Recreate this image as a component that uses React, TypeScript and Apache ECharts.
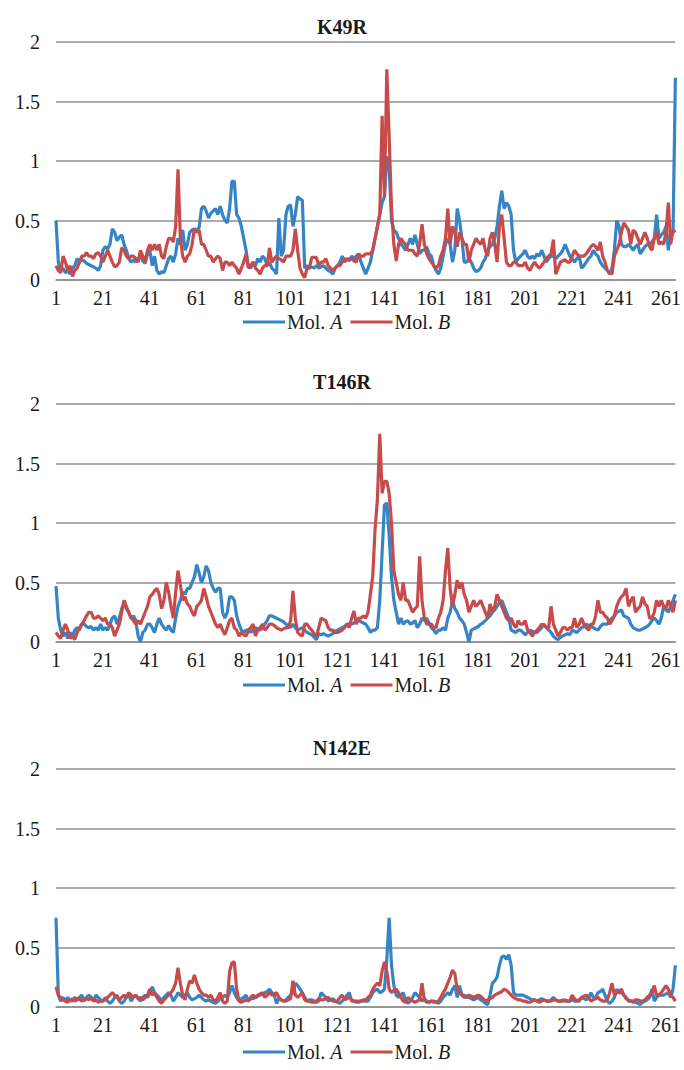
import React, { useEffect, useRef } from "react";
import * as echarts from "echarts";

// Residue numbers 1..265 on the category axis
const residues: string[] = Array.from({ length: 265 }, (_, i) => String(i + 1));
const yTicks = [0, 0.5, 1, 1.5, 2];
const panelTitles = ["K49R", "T146R", "N142E"];
const seriesNames = ["Mol. A", "Mol. B"];

const k49rA = [
  0.50, 0.15, 0.08, 0.10, 0.06, 0.08, 0.05, 0.10, 0.12, 0.18,
  0.15, 0.17, 0.16, 0.14, 0.13, 0.12, 0.11, 0.10, 0.08, 0.12,
  0.25, 0.28, 0.26, 0.30, 0.43, 0.40, 0.33, 0.36, 0.38, 0.30,
  0.25, 0.18, 0.15, 0.17, 0.15, 0.18, 0.20, 0.16, 0.14, 0.22,
  0.25, 0.12, 0.20, 0.08, 0.05, 0.07, 0.06, 0.12, 0.18, 0.20,
  0.15, 0.22, 0.35, 0.30, 0.42, 0.25, 0.30, 0.40, 0.42, 0.43,
  0.42, 0.44, 0.60, 0.62, 0.58, 0.52, 0.56, 0.58, 0.60, 0.55,
  0.62, 0.55, 0.50, 0.48, 0.60, 0.83, 0.83, 0.55, 0.52, 0.45,
  0.35, 0.25, 0.12, 0.10, 0.15, 0.12, 0.18, 0.15, 0.20, 0.18,
  0.12, 0.15, 0.10, 0.08, 0.05, 0.52, 0.20, 0.25, 0.55, 0.62,
  0.63, 0.45, 0.55, 0.70, 0.68, 0.67, 0.10, 0.12, 0.10, 0.11,
  0.10, 0.12, 0.10, 0.11, 0.12, 0.10, 0.08, 0.07, 0.05, 0.10,
  0.12, 0.15, 0.20, 0.15, 0.18, 0.16, 0.20, 0.18, 0.20, 0.22,
  0.15, 0.10, 0.05, 0.10, 0.15, 0.25, 0.35, 0.45, 0.55, 0.65,
  0.70, 1.04, 0.95, 0.50, 0.42, 0.40, 0.35, 0.30, 0.28, 0.25,
  0.30, 0.35, 0.30, 0.38, 0.30, 0.22, 0.25, 0.25, 0.28, 0.22,
  0.20, 0.12, 0.08, 0.05, 0.10, 0.20, 0.30, 0.35, 0.30, 0.15,
  0.25, 0.60, 0.50, 0.35, 0.15, 0.15, 0.18, 0.15, 0.10, 0.07,
  0.08, 0.10, 0.15, 0.18, 0.25, 0.28, 0.30, 0.35, 0.45, 0.62,
  0.75, 0.60, 0.65, 0.62, 0.55, 0.25, 0.15, 0.18, 0.20, 0.22,
  0.25, 0.20, 0.18, 0.20, 0.18, 0.22, 0.20, 0.25, 0.20, 0.15,
  0.18, 0.20, 0.20, 0.18, 0.20, 0.22, 0.25, 0.30, 0.25, 0.20,
  0.18, 0.15, 0.18, 0.20, 0.10, 0.12, 0.15, 0.18, 0.20, 0.25,
  0.22, 0.20, 0.15, 0.12, 0.10, 0.08, 0.05, 0.10, 0.25, 0.50,
  0.45, 0.30, 0.28, 0.28, 0.30, 0.28, 0.25, 0.28, 0.30, 0.22,
  0.25, 0.28, 0.30, 0.30, 0.32, 0.35, 0.55, 0.35, 0.38, 0.40,
  0.45, 0.25, 0.40, 0.40, 1.70,
];

const k49rB = [
  0.12, 0.08, 0.06, 0.20, 0.15, 0.08, 0.12, 0.03, 0.08, 0.10,
  0.15, 0.20, 0.20, 0.23, 0.20, 0.20, 0.18, 0.22, 0.23, 0.20,
  0.15, 0.20, 0.25, 0.20, 0.15, 0.11, 0.12, 0.15, 0.27, 0.25,
  0.20, 0.18, 0.20, 0.20, 0.18, 0.15, 0.25, 0.20, 0.15, 0.25,
  0.30, 0.25, 0.30, 0.25, 0.30, 0.20, 0.18, 0.28, 0.35, 0.35,
  0.32, 0.45, 0.93, 0.35, 0.20, 0.15, 0.20, 0.22, 0.30, 0.43,
  0.40, 0.42, 0.30, 0.30, 0.25, 0.20, 0.20, 0.15, 0.18, 0.20,
  0.18, 0.08, 0.15, 0.15, 0.12, 0.15, 0.12, 0.10, 0.05, 0.10,
  0.15, 0.22, 0.10, 0.12, 0.15, 0.10, 0.08, 0.05, 0.10, 0.12,
  0.12, 0.27, 0.15, 0.18, 0.20, 0.18, 0.17, 0.15, 0.20, 0.20,
  0.20, 0.25, 0.43, 0.25, 0.10, 0.05, 0.02, 0.10, 0.10, 0.19,
  0.19, 0.19, 0.12, 0.15, 0.15, 0.18, 0.12, 0.10, 0.08, 0.10,
  0.12, 0.12, 0.15, 0.18, 0.17, 0.18, 0.18, 0.16, 0.15, 0.22,
  0.20, 0.20, 0.22, 0.22, 0.22, 0.25, 0.35, 0.45, 0.55, 1.38,
  0.70, 1.77, 1.20, 0.60, 0.30, 0.16, 0.30, 0.35, 0.32, 0.30,
  0.25, 0.25, 0.25, 0.22, 0.20, 0.30, 0.47, 0.30, 0.22, 0.18,
  0.15, 0.12, 0.10, 0.12, 0.20, 0.25, 0.35, 0.60, 0.30, 0.45,
  0.40, 0.28, 0.40, 0.35, 0.30, 0.30, 0.15, 0.25, 0.30, 0.35,
  0.32, 0.30, 0.35, 0.25, 0.20, 0.35, 0.40, 0.30, 0.15, 0.45,
  0.55, 0.35, 0.15, 0.12, 0.12, 0.15, 0.15, 0.12, 0.12, 0.12,
  0.15, 0.10, 0.08, 0.12, 0.15, 0.12, 0.10, 0.12, 0.15, 0.18,
  0.20, 0.22, 0.34, 0.05, 0.10, 0.15, 0.16, 0.17, 0.15, 0.15,
  0.20, 0.25, 0.22, 0.20, 0.20, 0.20, 0.22, 0.25, 0.28, 0.30,
  0.28, 0.25, 0.32, 0.20, 0.15, 0.08, 0.06, 0.05, 0.20, 0.25,
  0.30, 0.40, 0.48, 0.45, 0.42, 0.30, 0.42, 0.40, 0.35, 0.30,
  0.35, 0.40, 0.35, 0.28, 0.25, 0.35, 0.40, 0.30, 0.32, 0.30,
  0.40, 0.65, 0.30, 0.42, 0.40,
];

const t146rA = [
  0.47, 0.20, 0.10, 0.05, 0.08, 0.03, 0.08, 0.05, 0.10, 0.12,
  0.10, 0.15, 0.15, 0.13, 0.12, 0.13, 0.10, 0.12, 0.10, 0.15,
  0.10, 0.12, 0.10, 0.15, 0.20, 0.22, 0.15, 0.20, 0.28, 0.33,
  0.28, 0.25, 0.20, 0.22, 0.18, 0.05, 0.00, 0.08, 0.10, 0.15,
  0.15, 0.12, 0.08, 0.15, 0.20, 0.15, 0.12, 0.10, 0.14, 0.10,
  0.08, 0.20, 0.30, 0.35, 0.42, 0.40, 0.45, 0.45, 0.50, 0.55,
  0.65, 0.58, 0.50, 0.55, 0.64, 0.60, 0.50, 0.45, 0.42, 0.45,
  0.45, 0.25, 0.20, 0.25, 0.38, 0.38, 0.35, 0.22, 0.15, 0.10,
  0.08, 0.10, 0.10, 0.08, 0.10, 0.12, 0.11, 0.10, 0.12, 0.15,
  0.18, 0.22, 0.22, 0.21, 0.20, 0.19, 0.18, 0.17, 0.15, 0.14,
  0.12, 0.15, 0.12, 0.10, 0.11, 0.12, 0.10, 0.08, 0.07, 0.06,
  0.04, 0.02, 0.07, 0.06, 0.07, 0.06, 0.05, 0.06, 0.07, 0.09,
  0.10, 0.11, 0.12, 0.13, 0.15, 0.15, 0.15, 0.16, 0.18, 0.18,
  0.17, 0.16, 0.15, 0.12, 0.08, 0.10, 0.10, 0.12, 0.35, 0.75,
  1.15, 1.17, 0.90, 0.55, 0.35, 0.25, 0.15, 0.20, 0.15, 0.17,
  0.18, 0.15, 0.16, 0.18, 0.12, 0.15, 0.20, 0.18, 0.20, 0.16,
  0.12, 0.10, 0.07, 0.10, 0.10, 0.12, 0.10, 0.20, 0.25, 0.35,
  0.28, 0.25, 0.20, 0.18, 0.15, 0.08, 0.00, 0.10, 0.11, 0.12,
  0.13, 0.15, 0.16, 0.18, 0.20, 0.22, 0.25, 0.27, 0.30, 0.33,
  0.35, 0.30, 0.25, 0.20, 0.10, 0.09, 0.08, 0.10, 0.10, 0.08,
  0.06, 0.08, 0.10, 0.09, 0.08, 0.08, 0.10, 0.12, 0.15, 0.12,
  0.10, 0.08, 0.05, 0.03, 0.02, 0.04, 0.05, 0.06, 0.07, 0.06,
  0.10, 0.09, 0.08, 0.10, 0.12, 0.13, 0.15, 0.14, 0.13, 0.12,
  0.11, 0.10, 0.13, 0.15, 0.15, 0.15, 0.18, 0.20, 0.22, 0.25,
  0.26, 0.27, 0.22, 0.21, 0.20, 0.15, 0.12, 0.11, 0.10, 0.10,
  0.11, 0.12, 0.13, 0.15, 0.18, 0.20, 0.18, 0.15, 0.20, 0.30,
  0.27, 0.25, 0.30, 0.35, 0.40,
];

const t146rB = [
  0.08, 0.05, 0.03, 0.10, 0.15, 0.10, 0.03, 0.05, 0.02, 0.08,
  0.12, 0.15, 0.18, 0.22, 0.25, 0.25, 0.20, 0.20, 0.22, 0.20,
  0.18, 0.20, 0.15, 0.15, 0.12, 0.05, 0.10, 0.15, 0.25, 0.35,
  0.30, 0.25, 0.20, 0.18, 0.15, 0.18, 0.15, 0.20, 0.25, 0.30,
  0.38, 0.40, 0.43, 0.45, 0.40, 0.28, 0.35, 0.50, 0.42, 0.30,
  0.20, 0.42, 0.60, 0.48, 0.35, 0.38, 0.32, 0.30, 0.25, 0.22,
  0.30, 0.32, 0.35, 0.45, 0.38, 0.30, 0.25, 0.20, 0.15, 0.12,
  0.15, 0.10, 0.06, 0.12, 0.18, 0.20, 0.12, 0.10, 0.05, 0.08,
  0.06, 0.05, 0.10, 0.12, 0.15, 0.05, 0.10, 0.12, 0.15, 0.10,
  0.12, 0.15, 0.15, 0.14, 0.12, 0.11, 0.10, 0.11, 0.12, 0.12,
  0.18, 0.43, 0.20, 0.08, 0.06, 0.05, 0.15, 0.15, 0.12, 0.10,
  0.07, 0.05, 0.12, 0.20, 0.19, 0.18, 0.12, 0.10, 0.10, 0.08,
  0.08, 0.09, 0.10, 0.12, 0.15, 0.12, 0.20, 0.26, 0.15, 0.20,
  0.20, 0.22, 0.20, 0.25, 0.40, 0.55, 0.95, 1.20, 1.75, 1.25,
  1.35, 1.35, 1.25, 1.00, 0.60, 0.50, 0.40, 0.35, 0.50, 0.35,
  0.35, 0.30, 0.25, 0.28, 0.30, 0.72, 0.35, 0.20, 0.15, 0.15,
  0.15, 0.12, 0.12, 0.20, 0.25, 0.35, 0.60, 0.79, 0.45, 0.30,
  0.40, 0.52, 0.45, 0.50, 0.40, 0.35, 0.25, 0.30, 0.35, 0.30,
  0.32, 0.35, 0.30, 0.25, 0.20, 0.32, 0.25, 0.30, 0.40, 0.35,
  0.30, 0.25, 0.20, 0.18, 0.20, 0.15, 0.12, 0.18, 0.15, 0.15,
  0.18, 0.10, 0.08, 0.05, 0.08, 0.10, 0.12, 0.15, 0.14, 0.12,
  0.12, 0.30, 0.15, 0.10, 0.05, 0.08, 0.12, 0.12, 0.10, 0.12,
  0.12, 0.20, 0.12, 0.15, 0.20, 0.15, 0.12, 0.10, 0.15, 0.15,
  0.22, 0.35, 0.25, 0.25, 0.22, 0.20, 0.15, 0.18, 0.22, 0.30,
  0.35, 0.38, 0.40, 0.45, 0.30, 0.35, 0.38, 0.25, 0.28, 0.30,
  0.38, 0.32, 0.30, 0.20, 0.20, 0.25, 0.35, 0.30, 0.35, 0.30,
  0.28, 0.35, 0.30, 0.25, 0.35,
];

const n142eA = [
  0.75, 0.10, 0.05, 0.08, 0.05, 0.08, 0.05, 0.07, 0.05, 0.06,
  0.08, 0.10, 0.05, 0.08, 0.10, 0.08, 0.05, 0.10, 0.08, 0.06,
  0.05, 0.08, 0.05, 0.03, 0.05, 0.08, 0.10, 0.05, 0.03, 0.05,
  0.08, 0.10, 0.05, 0.08, 0.10, 0.07, 0.05, 0.08, 0.10, 0.08,
  0.12, 0.17, 0.12, 0.10, 0.08, 0.05, 0.08, 0.10, 0.12, 0.10,
  0.05, 0.08, 0.12, 0.10, 0.08, 0.10, 0.12, 0.08, 0.06, 0.07,
  0.08, 0.10, 0.08, 0.06, 0.05, 0.06, 0.05, 0.04, 0.03, 0.05,
  0.07, 0.08, 0.10, 0.08, 0.12, 0.18, 0.12, 0.08, 0.05, 0.07,
  0.08, 0.10, 0.05, 0.07, 0.07, 0.08, 0.09, 0.10, 0.11, 0.12,
  0.13, 0.15, 0.12, 0.10, 0.03, 0.07, 0.06, 0.05, 0.06, 0.08,
  0.10, 0.12, 0.20, 0.18, 0.15, 0.12, 0.08, 0.05, 0.06, 0.06,
  0.05, 0.04, 0.05, 0.12, 0.10, 0.08, 0.05, 0.06, 0.07, 0.05,
  0.04, 0.03, 0.05, 0.07, 0.10, 0.12, 0.05, 0.05, 0.04, 0.04,
  0.05, 0.05, 0.05, 0.05, 0.08, 0.12, 0.14, 0.15, 0.12, 0.13,
  0.15, 0.40, 0.75, 0.35, 0.18, 0.10, 0.08, 0.10, 0.12, 0.05,
  0.03, 0.05, 0.08, 0.12, 0.10, 0.08, 0.05, 0.07, 0.05, 0.04,
  0.05, 0.05, 0.04, 0.03, 0.05, 0.08, 0.10, 0.12, 0.10, 0.15,
  0.18, 0.08, 0.18, 0.10, 0.10, 0.08, 0.08, 0.07, 0.06, 0.07,
  0.08, 0.06, 0.05, 0.03, 0.02, 0.10, 0.20, 0.22, 0.25, 0.35,
  0.42, 0.43, 0.40, 0.44, 0.35, 0.12, 0.10, 0.10, 0.10, 0.10,
  0.09, 0.08, 0.07, 0.06, 0.06, 0.05, 0.06, 0.07, 0.06, 0.05,
  0.05, 0.06, 0.08, 0.06, 0.05, 0.05, 0.06, 0.05, 0.05, 0.05,
  0.06, 0.05, 0.05, 0.05, 0.08, 0.07, 0.06, 0.08, 0.12, 0.08,
  0.08, 0.12, 0.13, 0.15, 0.10, 0.05, 0.03, 0.05, 0.08, 0.15,
  0.12, 0.12, 0.10, 0.08, 0.05, 0.05, 0.04, 0.04, 0.03, 0.02,
  0.04, 0.05, 0.06, 0.08, 0.15, 0.05, 0.08, 0.10, 0.10, 0.10,
  0.11, 0.12, 0.08, 0.15, 0.35,
];

const n142eB = [
  0.17, 0.10, 0.08, 0.06, 0.05, 0.04, 0.06, 0.05, 0.08, 0.06,
  0.07, 0.05, 0.06, 0.07, 0.06, 0.08, 0.05, 0.06, 0.04, 0.05,
  0.05, 0.06, 0.08, 0.10, 0.12, 0.10, 0.08, 0.06, 0.08, 0.10,
  0.08, 0.12, 0.10, 0.08, 0.10, 0.07, 0.08, 0.06, 0.08, 0.10,
  0.15, 0.10, 0.12, 0.08, 0.05, 0.03, 0.06, 0.08, 0.10, 0.12,
  0.15, 0.20, 0.33, 0.20, 0.10, 0.06, 0.15, 0.22, 0.20, 0.27,
  0.20, 0.15, 0.12, 0.10, 0.10, 0.08, 0.10, 0.06, 0.05, 0.08,
  0.12, 0.05, 0.03, 0.05, 0.30, 0.37, 0.38, 0.15, 0.05, 0.04,
  0.05, 0.06, 0.05, 0.08, 0.10, 0.08, 0.10, 0.11, 0.12, 0.08,
  0.10, 0.12, 0.10, 0.11, 0.12, 0.08, 0.06, 0.05, 0.05, 0.06,
  0.07, 0.22, 0.10, 0.08, 0.10, 0.12, 0.06, 0.05, 0.05, 0.04,
  0.04, 0.05, 0.07, 0.06, 0.06, 0.07, 0.08, 0.06, 0.05, 0.05,
  0.05, 0.08, 0.10, 0.06, 0.07, 0.08, 0.06, 0.05, 0.05, 0.05,
  0.05, 0.06, 0.06, 0.08, 0.10, 0.15, 0.18, 0.20, 0.18, 0.30,
  0.38, 0.30, 0.15, 0.12, 0.14, 0.15, 0.12, 0.08, 0.05, 0.04,
  0.08, 0.06, 0.05, 0.04, 0.05, 0.06, 0.20, 0.06, 0.04, 0.04,
  0.05, 0.04, 0.04, 0.05, 0.08, 0.12, 0.15, 0.20, 0.25, 0.31,
  0.28, 0.15, 0.12, 0.10, 0.08, 0.09, 0.10, 0.09, 0.08, 0.09,
  0.10, 0.09, 0.07, 0.05, 0.06, 0.07, 0.08, 0.10, 0.11, 0.12,
  0.13, 0.15, 0.14, 0.12, 0.10, 0.08, 0.07, 0.06, 0.06, 0.05,
  0.05, 0.04, 0.04, 0.05, 0.06, 0.05, 0.04, 0.05, 0.06, 0.05,
  0.05, 0.05, 0.06, 0.06, 0.05, 0.05, 0.05, 0.06, 0.05, 0.05,
  0.10, 0.07, 0.05, 0.06, 0.08, 0.09, 0.10, 0.08, 0.05, 0.06,
  0.07, 0.08, 0.06, 0.05, 0.05, 0.06, 0.12, 0.20, 0.10, 0.12,
  0.13, 0.15, 0.10, 0.07, 0.06, 0.05, 0.05, 0.06, 0.06, 0.05,
  0.05, 0.06, 0.08, 0.10, 0.12, 0.18, 0.10, 0.10, 0.12, 0.15,
  0.18, 0.15, 0.10, 0.08, 0.05,
];

const panelData = [
  [k49rA, k49rB],
  [t146rA, t146rB],
  [n142eA, n142eB],
];

const FONT = "'Liberation Serif', 'Times New Roman', serif";
const BLUE = "#3585c6";
const RED = "#c84b4b";
const GRID_GRAY = "#8f8f8f";
const TEXT = "#1a1a1a";

// Layout (pixels)
const gridTops = [42, 404, 769];
const gridHeight = 238;
const titleTops = [17, 372, 738];
const legendTops = [312, 675, 1042];

export default function App() {
  const ref = useRef<HTMLDivElement>(null);

  useEffect(() => {
    if (!ref.current) return;
    const chart = echarts.init(ref.current, undefined, { renderer: "svg" });

    const grid = gridTops.map((t) => ({
      left: 56,
      right: 6,
      top: t,
      height: gridHeight,
      containLabel: false,
    }));

    const xAxis = gridTops.map((_, i) => ({
      type: "category",
      gridIndex: i,
      data: residues,
      boundaryGap: false,
      axisTick: { show: false },
      axisLine: { show: true, lineStyle: { color: GRID_GRAY, width: 1.5 } },
      axisLabel: {
        interval: 19,
        fontFamily: FONT,
        fontSize: 20,
        color: TEXT,
        margin: 8,
      },
      splitLine: { show: false },
    }));

    const yAxis = gridTops.map((_, i) => ({
      type: "value",
      gridIndex: i,
      min: yTicks[0],
      max: yTicks[yTicks.length - 1],
      interval: 0.5,
      axisLine: { show: false },
      axisTick: { show: false },
      axisLabel: {
        fontFamily: FONT,
        fontSize: 20,
        color: TEXT,
        margin: 16,
        formatter: (v: number) => String(v),
      },
      splitLine: { show: true, lineStyle: { color: GRID_GRAY, width: 1.5 } },
    }));

    const title = panelTitles.map((t, i) => ({
      text: t,
      left: "center",
      top: titleTops[i],
      padding: 0,
      textStyle: {
        fontFamily: FONT,
        fontWeight: "bold",
        fontSize: 20,
        color: TEXT,
      },
    }));

    const legend = legendTops.map((t) => ({
      data: seriesNames,
      left: 243,
      top: t,
      padding: 0,
      icon: "rect",
      itemWidth: 42,
      itemHeight: 3,
      itemGap: 8,
      selectedMode: false,
      formatter: (name: string) =>
        name === "Mol. A" ? "Mol. {i|A}" : "Mol. {i|B}",
      textStyle: {
        fontFamily: FONT,
        fontSize: 20,
        color: TEXT,
        padding: [0, 0, 0, -3],
        rich: {
          i: { fontFamily: FONT, fontSize: 20, fontStyle: "italic", color: TEXT },
        },
      },
    }));

    const series: any[] = [];
    panelData.forEach((pair, i) => {
      pair.forEach((vals, j) => {
        series.push({
          type: "line",
          name: seriesNames[j],
          xAxisIndex: i,
          yAxisIndex: i,
          data: vals,
          symbol: "none",
          showSymbol: false,
          color: j === 0 ? BLUE : RED,
          lineStyle: { width: 3.2, color: j === 0 ? BLUE : RED },
          z: 2 + j,
        });
      });
    });

    chart.setOption({
      animation: false,
      backgroundColor: "#ffffff",
      title,
      legend,
      grid,
      xAxis,
      yAxis,
      series,
    });

    return () => chart.dispose();
  }, []);

  return (
    <div
      ref={ref}
      style={{ position: "absolute", left: 0, top: 0, width: 684, height: 1070 }}
    />
  );
}
